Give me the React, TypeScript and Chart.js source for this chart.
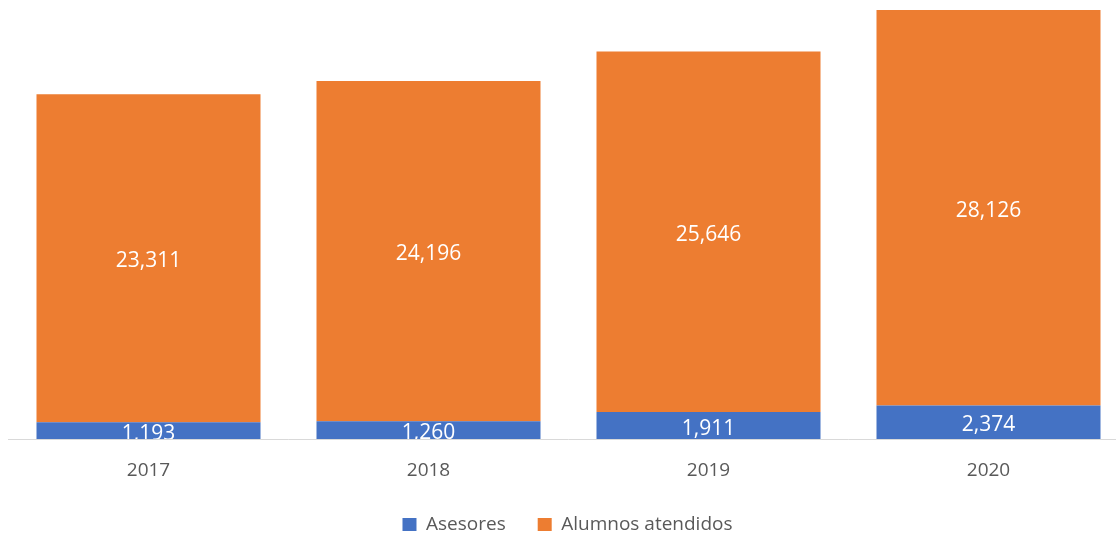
import React, { useEffect, useRef } from "react";
import { Chart, registerables } from "chart.js";

Chart.register(...registerables);

const years = ["2017", "2018", "2019", "2020"];
const asesores = [1193, 1260, 1911, 2374];
const alumnos = [23311, 24196, 25646, 28126];
const seriesNames = ["Asesores", "Alumnos atendidos"];
const yMax = 31000;

const FONT = "'Open Sans', 'Liberation Sans', sans-serif";

const dataLabelPlugin = {
  id: "segLabels",
  afterDatasetsDraw(chart: any) {
    const ctx = chart.ctx;
    const area = chart.chartArea;
    ctx.save();
    ctx.beginPath();
    ctx.rect(area.left, area.top, area.right - area.left, area.bottom - area.top);
    ctx.clip();
    ctx.fillStyle = "#FFFFFF";
    ctx.font = `21px ${FONT}`;
    ctx.textAlign = "center";
    ctx.textBaseline = "middle";
    chart.data.datasets.forEach((ds: any, di: number) => {
      const meta = chart.getDatasetMeta(di);
      meta.data.forEach((el: any, i: number) => {
        const p = el.getProps(["x", "y", "base"], true);
        const v = ds.data[i] as number;
        ctx.fillText(v.toLocaleString("en-US"), p.x, (p.y + p.base) / 2 + 3);
      });
    });
    ctx.restore();
  },
};

const legendShift = {
  id: "legendShift",
  afterLayout(chart: any) {
    const l = chart.legend;
    if (l) {
      l.left -= 1;
      l.right -= 1;
    }
  },
};

export default function App() {
  const ref = useRef<HTMLCanvasElement | null>(null);
  useEffect(() => {
    if (!ref.current) return;
    const chart = new Chart(ref.current, {
      type: "bar",
      data: {
        labels: years,
        datasets: [
          {
            label: seriesNames[0],
            data: asesores,
            backgroundColor: "#4472C4",
            barPercentage: 0.8,
            categoryPercentage: 1,
          },
          {
            label: seriesNames[1],
            data: alumnos,
            backgroundColor: "#ED7D31",
            barPercentage: 0.8,
            categoryPercentage: 1,
          },
        ],
      },
      options: {
        responsive: false,
        animation: false,
        layout: { padding: { left: 8.5, right: 1.5, top: 2.97, bottom: -9 } },
        plugins: {
          tooltip: { enabled: false },
          legend: {
            position: "bottom",
            labels: {
              boxWidth: 14,
              boxHeight: 13,
              color: "#595959",
              font: { family: FONT, size: 19 },
              padding: 32,
            },
          },
        },
        scales: {
          x: {
            stacked: true,
            grid: { display: false, drawTicks: false },
            border: { display: true, color: "#D9D9D9", width: 1 },
            ticks: {
              color: "#595959",
              font: { family: FONT, size: 19 },
              padding: 20,
            },
            afterFit(scale: any) {
              scale.height = 44;
            },
          },
          y: {
            stacked: true,
            display: false,
            min: 0,
            max: yMax,
          },
        },
      },
      plugins: [dataLabelPlugin, legendShift],
    });
    return () => chart.destroy();
  }, []);
  return (
    <div
      style={{
        position: "fixed",
        left: 0,
        top: 0,
        width: 1116,
        height: 535,
        overflow: "hidden",
        background: "#fff",
      }}
    >
      <canvas ref={ref} width={1130} height={535} style={{ width: 1130, height: 535 }} />
    </div>
  );
}
